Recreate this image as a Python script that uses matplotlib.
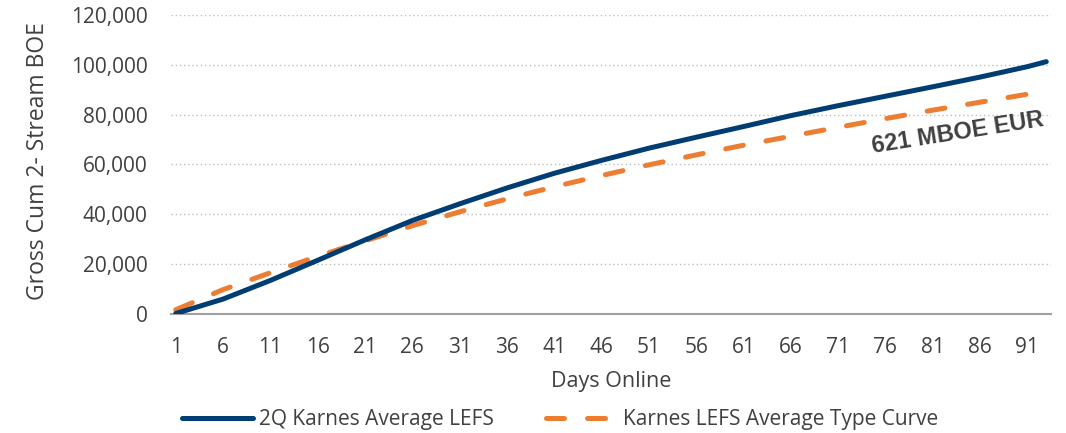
import numpy as np
import matplotlib
matplotlib.use('Agg')
import matplotlib.pyplot as plt

plt.rcParams['font.family'] = ['Open Sans', 'DejaVu Sans']

# values, every 5 days
days = [1, 6, 11, 16, 21, 26, 31, 36, 41, 46, 51, 56, 61, 66, 71, 76, 81, 86, 91, 93]
actual = [0, 5800, 13300, 21400, 29600, 37400, 44100, 50500, 56400, 61600, 66500,
          70900, 75200, 79600, 83600, 87400, 91200, 95100, 99300, 101300]
type_curve = [1500, 9600, 16400, 23000, 29200, 35300, 40900, 46100, 51000, 55500, 59800,
              63800, 67700, 71300, 74900, 78400, 81800, 85000, 88200, 89300]
xticks = list(range(1, 92, 5))
yticks = [0, 20000, 40000, 60000, 80000, 100000, 120000]

navy = '#003D73'
orange = '#ED7D31'
txt = '#404040'

fig = plt.figure(figsize=(10.66, 4.33), dpi=100)
ax = fig.add_axes([171/1066, 1 - 313.5/433, 880/1066, (313.5 - 15.2)/433])

ax.plot(days, actual, color=navy, lw=3.6, solid_capstyle='round',
        solid_joinstyle='round', label='2Q Karnes Average LEFS', zorder=3)
ax.plot(days, type_curve, color=orange, lw=3.6, dashes=(3.6, 4.6),
        dash_capstyle='round', label='Karnes LEFS Average Type Curve', zorder=2)

ax.set_xlim(0.5, 93.5)
ax.set_ylim(0, 120000)
ax.set_xticks(xticks)
ax.set_yticks(yticks)
ax.set_yticklabels(['{:,}'.format(v) for v in yticks])
ax.tick_params(axis='both', length=0, labelsize=15, colors=txt)
ax.tick_params(axis='y', pad=17)
ax.tick_params(axis='x', pad=17)

for s in ['top', 'right', 'left']:
    ax.spines[s].set_visible(False)
ax.spines['bottom'].set_color('#A0A0A0')
ax.spines['bottom'].set_linewidth(1.5)
ax.yaxis.grid(True, color='#BFBFBF', linestyle=(0, (1, 2)), lw=1.0)
ax.set_axisbelow(True)

fig.text(38.5/1066, 1 - 161/433, 'Gross Cum 2- Stream BOE', rotation=90,
         fontsize=16.5, color=txt, ha='center', va='center')
fig.text(611/1066, 1 - 381.5/433, 'Days Online', fontsize=15.5, color=txt,
         ha='center', va='center')

ax.text(958/1066, 1 - 133/433, '621 MBOE EUR', transform=fig.transFigure,
        fontsize=17, fontweight='bold', color=txt, family='Liberation Sans',
        rotation=9, ha='center', va='center', rotation_mode='anchor')

fig.legend(loc='center', bbox_to_anchor=(560/1066, 1 - 420/433), ncol=2,
           frameon=False, fontsize=15, handlelength=3.4, handletextpad=0.3,
           columnspacing=2.5, labelcolor=txt)

fig.savefig('out.png', dpi=100)
